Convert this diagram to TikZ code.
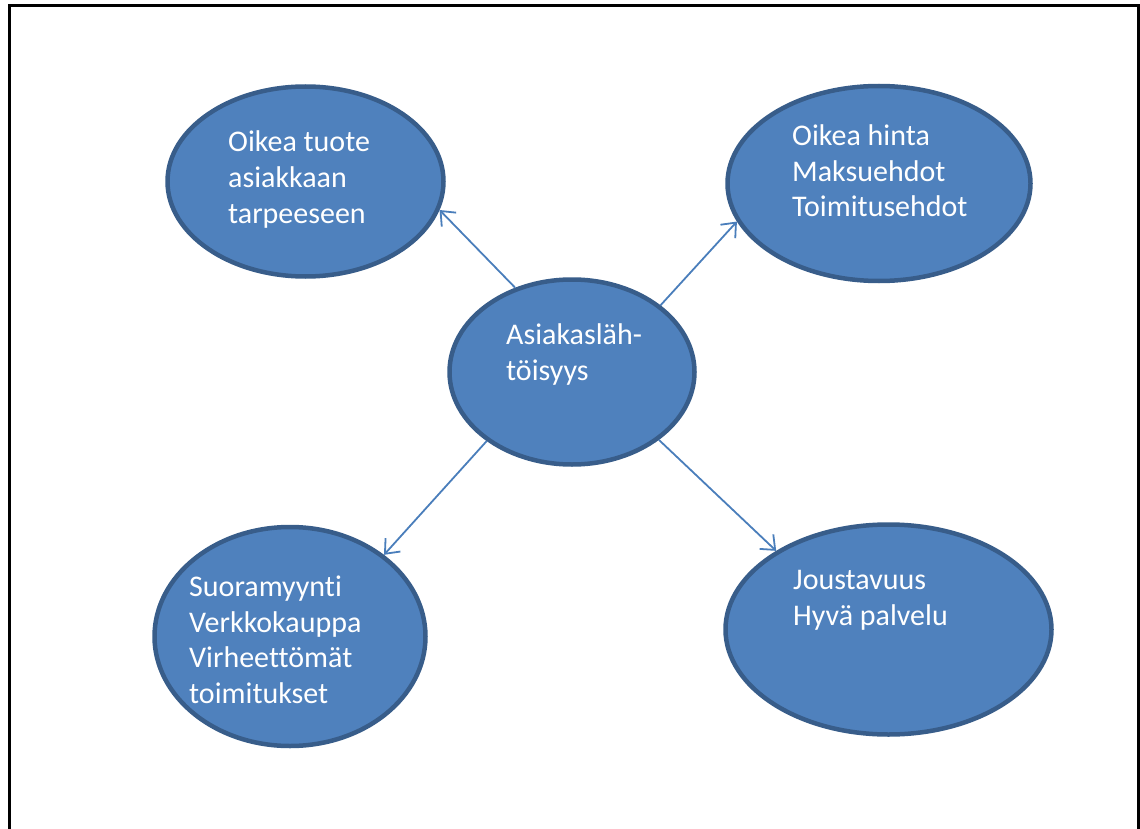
\documentclass[tikz,border=0pt]{standalone}
\usepackage{fontspec}
\setmainfont[Ligatures=NoCommon]{Carlito}
\usetikzlibrary{shapes.geometric,arrows.meta}
\definecolor{bubblefill}{HTML}{4F81BD}
\definecolor{bubbleline}{HTML}{385D8A}
\definecolor{linkblue}{HTML}{4A7EBB}
\begin{document}
\begin{tikzpicture}[x=1pt,y=-1pt,
  bubble/.style={ellipse, fill=bubblefill, draw=bubbleline, line width=4.5pt, inner sep=0pt},
  bubbletext/.style={anchor=base west, align=left, inner sep=0pt, text=white,
    font=\fontsize{30}{35.5}\selectfont},
  link/.style={draw=linkblue, line width=1.8pt, -{Straight Barb[length=12pt,width=20pt,line width=1.8pt]}}]
\useasboundingbox (0,0) rectangle (1140,829);
% page frame, open at the bottom
\draw[line width=3pt] (9.5,835) -- (9.5,6) -- (1138.5,6) -- (1138.5,835);

% bubbles
\node[bubble, minimum width=276pt, minimum height=190pt] (tl) at (305.5,181.5) {};
\node[bubble, minimum width=303pt, minimum height=195pt] (tr) at (879,183.5) {};
\node[bubble, minimum width=245pt, minimum height=185pt] (c)  at (572,372) {};
\node[bubble, minimum width=271pt, minimum height=219pt] (bl) at (290,636.5) {};
\node[bubble, minimum width=326pt, minimum height=210pt] (br) at (888.5,629.5) {};

% labels, placed by the baseline of their last line
\node[bubbletext] (ttl) at (228,223) {Oikea tuote\\asiakkaan\\tarpeeseen};
\node[bubbletext] (ttr) at (792,217) {Oikea hinta\\Maksuehdot\\Toimitusehdot};
\node[bubbletext] (tc)  at (506,380) {Asiakasläh-\\töisyys};
\node[bubbletext] (tbl) at (189,703) {Suoramyynti\\Verkkokauppa\\Virheettömät\\toimitukset};
\node[bubbletext] (tbr) at (793,625) {Joustavuus\\Hyvä palvelu};

% connectors
\draw[link] (c.124.6) -- (tl.-12.6);
\draw[link] (c.37.3) -- (tr.195.4);
\draw[link] (c.219.2) -- (bl.41.5);
\draw[link] (c.-38.9) -- (br.145.7);
\end{tikzpicture}
\end{document}
